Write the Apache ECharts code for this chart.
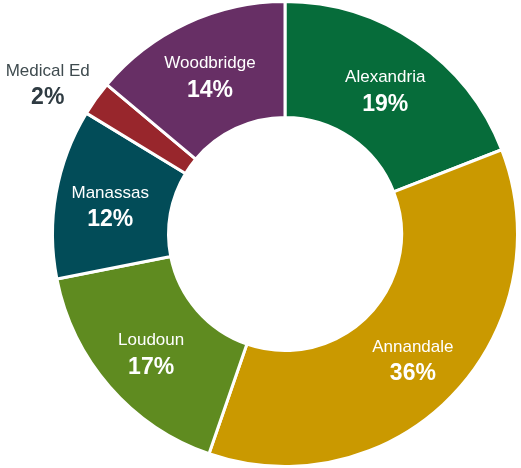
<!DOCTYPE html>
<html><head><meta charset="utf-8">
<script src="https://cdn.jsdelivr.net/npm/echarts@6/dist/echarts.min.js"></script>
<style>html,body{margin:0;padding:0;background:#fff}#c{width:521px;height:468px}</style>
</head><body><div id="c"></div>
<script>
const categories = ['Alexandria', 'Annandale', 'Loudoun', 'Manassas', 'Medical Ed', 'Woodbridge'];
const shares = [19.1, 36.2, 16.6, 11.8, 2.4, 13.9];
const colors = ['#066C3A', '#CA9900', '#5F8B20', '#024C58', '#98262C', '#672F65'];
const outsideLabels = ['Medical Ed'];

const FONT = '"Liberation Sans", Arial, sans-serif';
const richInside = {
  n: { fontSize: 17, color: '#ffffff', lineHeight: 26, fontFamily: FONT },
  p: { fontSize: 23, fontWeight: 'bold', color: '#ffffff', lineHeight: 28, fontFamily: FONT }
};
const richOutside = {
  n: { fontSize: 17, color: '#3F4B4F', lineHeight: 26, fontFamily: FONT },
  p: { fontSize: 23, fontWeight: 'bold', color: '#2F3B42', lineHeight: 28, fontFamily: FONT }
};

const chart = echarts.init(document.getElementById('c'), null, { renderer: 'canvas' });
chart.setOption({
  animation: false,
  backgroundColor: '#ffffff',
  series: [{
    type: 'pie',
    center: [285, 234],
    radius: [116.5, 232.5],
    startAngle: 90,
    clockwise: true,
    avoidLabelOverlap: false,
    itemStyle: { borderColor: '#ffffff', borderWidth: 3 },
    label: {
      show: true,
      position: 'inside',
      formatter: p => '{n|' + p.name + '}\n{p|' + Math.round(p.percent) + '%}',
      rich: richInside
    },
    labelLine: { show: false },
    emphasis: { disabled: true },
    data: categories.map((c, i) => {
      const out = outsideLabels.indexOf(c) >= 0;
      const d = { name: c, value: shares[i], itemStyle: { color: colors[i] } };
      if (out) {
        d.label = { position: 'outside', distanceToLabelLine: 5, rich: richOutside };
        d.labelLine = { show: false, length: 25, length2: 23 };
      }
      return d;
    }),
    labelLayout: function (params) {
      if (outsideLabels.indexOf(categories[params.dataIndex]) >= 0) {
        return { align: 'center', dy: 1 };
      }
      return { dy: 4 };
    }
  }]
});
</script></body></html>
